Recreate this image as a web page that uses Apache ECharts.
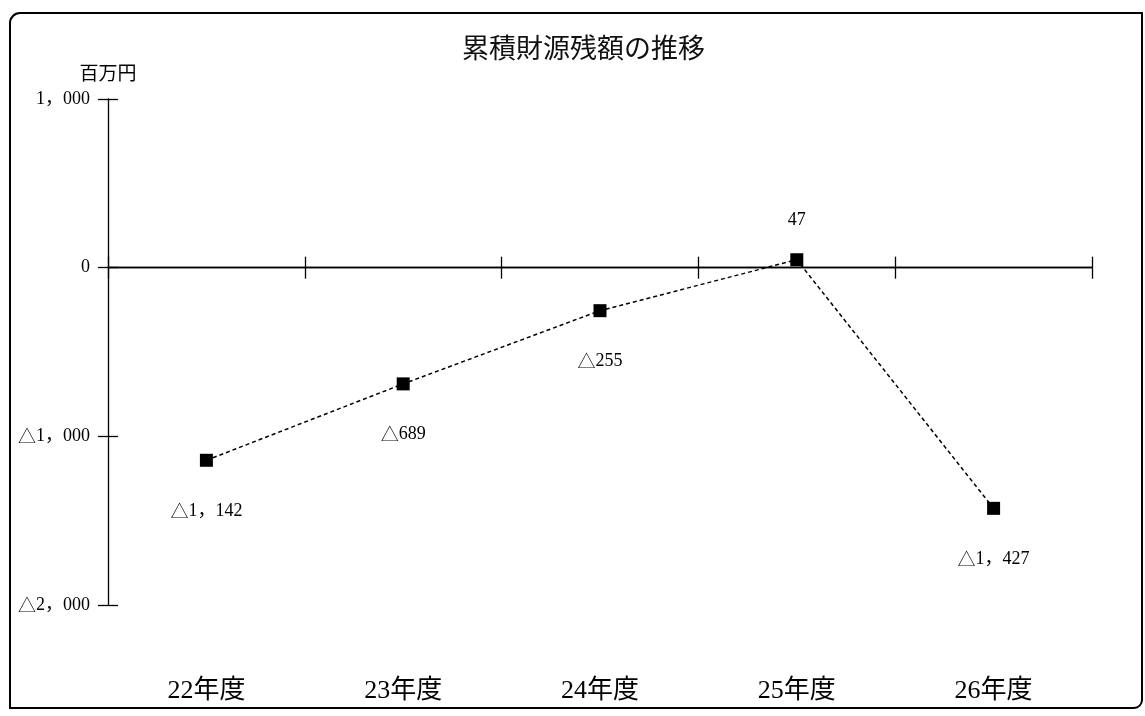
<!DOCTYPE html>
<html>
<head>
<meta charset="utf-8">
<script src="https://cdn.jsdelivr.net/npm/echarts@6/dist/echarts.min.js"></script>
<style>
  html, body { margin: 0; padding: 0; background: #fff; }
  #chart { width: 1145px; height: 716px; }
</style>
</head>
<body>
<div id="chart"></div>
<script>
// Fiscal years and the cumulative remaining funds (millions of yen)
const categories = ['22年度', '23年度', '24年度', '25年度', '26年度'];
const balance = [-1142, -689, -255, 47, -1427];
const yTicks = { min: -2000, max: 1000, interval: 1000 };

const FONT = "'Liberation Serif', 'DejaVu Serif', 'Noto Sans CJK JP', serif";
const CJK = "'Noto Sans CJK JP', sans-serif";

// Negative figures are written with a leading full-width △, thousands split by a full-width comma
function fmt(v) {
  const abs = Math.abs(v);
  const s = String(abs).replace(/\B(?=(\d{3})+(?!\d))/g, '，');
  return (v < 0 ? '{t|△}' : '') + s;
}

const triRich = { t: { fontFamily: CJK, fontSize: 18, color: '#000', fontWeight: 200 } };

const chart = echarts.init(document.getElementById('chart'), null, { renderer: 'canvas' });

chart.setOption({
  backgroundColor: '#fff',
  animation: false,
  title: {
    text: '累積財源残額の推移',
    left: 457,
    top: 32,
    textStyle: { color: '#111', fontFamily: FONT, fontSize: 27, fontWeight: 'normal' }
  },
  graphic: [{
    type: 'rect',
    shape: { x: 10, y: 13, width: 1132, height: 695, r: [10, 0, 8, 0] },
    style: { fill: 'none', stroke: '#000', lineWidth: 2 },
    silent: true
  }],
  grid: { left: 108, right: 53, top: 99, bottom: 111, containLabel: false },
  xAxis: [
    {
      // zero line, ticks pointing down
      type: 'category', data: categories, position: 'bottom',
      boundaryGap: true,
      axisLine: { onZero: true, lineStyle: { color: '#000', width: 1.3 } },
      axisTick: { show: true, length: 11, lineStyle: { color: '#000', width: 1.3 } },
      axisLabel: { show: false },
      splitLine: { show: false }
    },
    {
      // same zero line, ticks pointing up
      type: 'category', data: categories, position: 'bottom',
      boundaryGap: true,
      axisLine: { onZero: true, lineStyle: { color: '#000', width: 1.3 } },
      axisTick: { show: true, inside: true, length: 11, lineStyle: { color: '#000', width: 1.3 } },
      axisLabel: { show: false },
      splitLine: { show: false }
    },
    {
      // year labels along the bottom edge
      type: 'category', data: categories, position: 'bottom',
      boundaryGap: true,
      axisLine: { show: false, onZero: false },
      axisTick: { show: false },
      axisLabel: { show: true, margin: 73, color: '#000', fontFamily: FONT, fontSize: 26 },
      splitLine: { show: false }
    }
  ],
  yAxis: [
    {
      type: 'value', position: 'left',
      min: yTicks.min, max: yTicks.max, interval: yTicks.interval,
      name: '百万円', nameLocation: 'end', nameGap: 14,
      nameTextStyle: { color: '#000', fontFamily: FONT, fontSize: 19 },
      axisLine: { show: true, lineStyle: { color: '#000', width: 1.3 } },
      axisTick: { show: true, length: 10, lineStyle: { color: '#000', width: 1.3 } },
      axisLabel: { margin: 18, color: '#000', fontFamily: FONT, fontSize: 18, formatter: fmt, rich: triRich },
      splitLine: { show: false }
    },
    {
      type: 'value', position: 'left',
      min: yTicks.min, max: yTicks.max, interval: yTicks.interval,
      axisLine: { show: false },
      axisTick: { show: true, inside: true, length: 10, lineStyle: { color: '#000', width: 1.3 } },
      axisLabel: { show: false },
      splitLine: { show: false }
    }
  ],
  series: [{
    type: 'line',
    xAxisIndex: 0,
    yAxisIndex: 0,
    symbol: 'rect',
    symbolSize: 13,
    itemStyle: { color: '#000' },
    lineStyle: { color: '#000', width: 1.5, type: [4, 3] },
    label: {
      show: true,
      color: '#000',
      fontFamily: FONT,
      fontSize: 18,
      rich: triRich,
      formatter: p => fmt(p.value),
      position: 'bottom',
      distance: 35
    },
    data: balance.map(v => ({
      value: v,
      label: v >= 0 ? { position: 'top', distance: 24 } : undefined
    }))
  }]
});
</script>
</body>
</html>
